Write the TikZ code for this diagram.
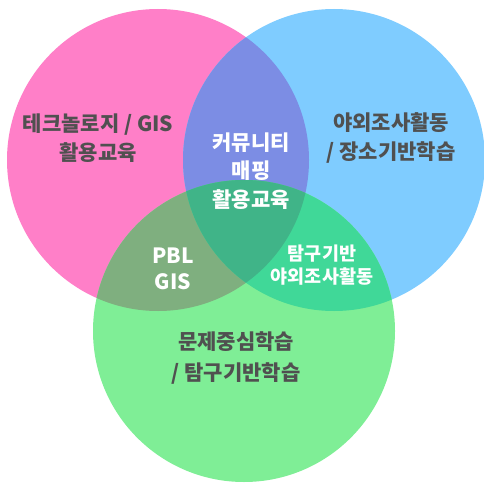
\documentclass[tikz,border=0pt]{standalone}
\usepackage{fontspec}
\newfontfamily\kr{Noto Sans CJK KR}
\definecolor{cpink}{RGB}{255,127,200}
\definecolor{cblue}{RGB}{127,204,255}
\definecolor{cgreen}{RGB}{127,238,150}
\definecolor{cpb}{RGB}{124,141,228}
\definecolor{cpg}{RGB}{127,175,127}
\definecolor{cbg}{RGB}{64,216,152}
\definecolor{cpbg}{RGB}{64,180,136}
\definecolor{ctext}{RGB}{80,80,80}
\tikzset{
  outer/.style={font=\kr\bfseries\fontsize{21}{28.5}\selectfont, text=ctext, align=center, inner sep=0pt},
  inner/.style={font=\kr\bfseries\fontsize{21}{28.5}\selectfont, text=white, align=center, inner sep=0pt},
  small/.style={font=\kr\bfseries\fontsize{18.5}{23.5}\selectfont, text=white, align=center, inner sep=0pt}
}
\begin{document}
\begin{tikzpicture}[x=1pt,y=-1pt]
\useasboundingbox (0,0) rectangle (484,484);
\coordinate (P) at (158,160);
\coordinate (B) at (334,160);
\coordinate (G) at (244,331);
\def\R{151}
\fill[cpink] (P) circle (\R);
\fill[cblue] (B) circle (\R);
\fill[cgreen] (G) circle (\R);
\begin{scope}\clip (P) circle (\R); \fill[cpb] (B) circle (\R); \end{scope}
\begin{scope}\clip (P) circle (\R); \fill[cpg] (G) circle (\R); \end{scope}
\begin{scope}\clip (B) circle (\R); \fill[cbg] (G) circle (\R); \end{scope}
\begin{scope}\clip (P) circle (\R); \clip (B) circle (\R); \fill[cpbg] (G) circle (\R); \end{scope}
\node[outer] (tp) at (98,138) {테크놀로지 / GIS\\활용교육};
\node[outer] (tb) at (391,138) {야외조사활동\\/ 장소기반학습};
\node[outer, text height=, font=\kr\bfseries\fontsize{21}{31}\selectfont] (tg) at (236,358) {문제중심학습\\/ 탐구기반학습};
\node[inner] (tc) at (251,171) {커뮤니티\\매핑\\활용교육};
\node[inner, font=\kr\bfseries\fontsize{21}{26.5}\selectfont] (tpg) at (173,269) {PBL\\GIS};
\node[small] (tbg) at (322,265) {탐구기반\\야외조사활동};
\end{tikzpicture}
\end{document}
